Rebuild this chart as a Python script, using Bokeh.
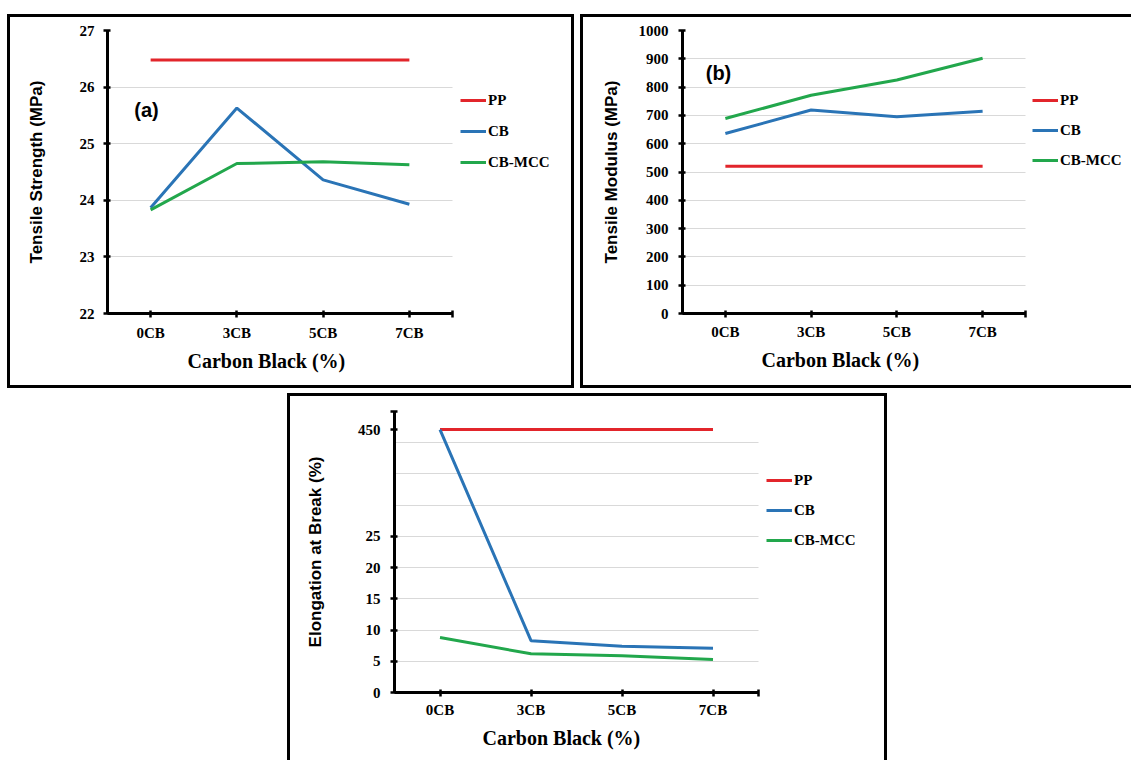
from bokeh.plotting import figure
from bokeh.models import Range1d, FixedTicker, Legend, LegendItem, Label, Spacer, Title
from bokeh.layouts import column, row
from bokeh.embed import file_html
from bokeh.resources import INLINE

# ---------------- data ----------------
categories = ["0CB", "3CB", "5CB", "7CB"]
series_names = ["PP", "CB", "CB-MCC"]

strength_pp = [26.48, 26.48, 26.48, 26.48]
strength_cb = [23.87, 25.63, 24.36, 23.93]
strength_cbmcc = [23.83, 24.65, 24.68, 24.63]
strength_ticks = [22, 23, 24, 25, 26, 27]

modulus_pp = [520, 520, 520, 520]
modulus_cb = [636, 719, 695, 715]
modulus_cbmcc = [689, 771, 825, 902]
modulus_ticks = [0, 100, 200, 300, 400, 500, 600, 700, 800, 900, 1000]

elong_pp = [450, 450, 450, 450]
elong_cb = [450, 8.3, 7.4, 7.1]
elong_cbmcc = [8.8, 6.2, 5.9, 5.3]
elong_ticks = [0, 5, 10, 15, 20, 25, 450]
elong_grid = [0, 5, 10, 15, 20, 25, 30, 35, 40, 45]

# broken y axis of panel (c): linear to 25, then 450 is drawn near the top
BREAK_AT = 25
BREAK_TOP_VALUE = 450
BREAK_TOP_POS = 42.1
ELONG_AXIS_TOP = 45


def elong_scale(v):
    if v <= BREAK_AT:
        return v
    return BREAK_AT + (v - BREAK_AT) * (BREAK_TOP_POS - BREAK_AT) / (BREAK_TOP_VALUE - BREAK_AT)


# category slots: each category occupies one unit, drawn at its centre
N = len(categories)
cat_pos = [i + 0.5 for i in range(N)]
cat_labels = {p: c for p, c in zip(cat_pos, categories)}
cat_labels[N] = ""

COLORS = ["#E2252B", "#2A74B6", "#22A74C"]
SERIF = "Liberation Serif"
SANS = "Liberation Sans"


def make_panel(series, y_start, y_end, ticks, grid_ticks, overrides, ylabel, xlabel,
               width, height, mb, axis_len, ylabel_standoff,
               tick_standoff_y, tick_standoff_x,
               legend_loc, legend_spacing, xlabel_offset, xlabel_standoff,
               tag=None, tag_pos=None, borders=None):
    left, top, bottom = mb
    x_end = N * (width - left) / axis_len
    p = figure(x_range=Range1d(0, x_end),
               y_range=Range1d(y_start, y_end),
               width=width, height=height,
               min_border_left=left, min_border_right=0,
               min_border_top=top, min_border_bottom=bottom,
               output_backend="svg", toolbar_location=None,
               background_fill_color="white", border_fill_color="white",
               styles=borders)
    p.outline_line_color = None
    p.xgrid.visible = False
    p.ygrid.ticker = FixedTicker(ticks=grid_ticks)
    p.ygrid.grid_line_color = "#D9D9D9"
    p.ygrid.grid_line_width = 1
    p.ygrid.cross_bounds = (0, N)

    p.xaxis.ticker = FixedTicker(ticks=cat_pos + [N])
    p.xaxis.major_label_overrides = cat_labels
    p.xaxis.bounds = (0, N)
    p.yaxis.ticker = FixedTicker(ticks=ticks)
    if overrides:
        p.yaxis.major_label_overrides = overrides
    for ax in (p.xaxis[0], p.yaxis[0]):
        ax.axis_line_width = 3
        ax.axis_line_color = "black"
        ax.major_tick_line_width = 2.5
        ax.major_tick_line_color = "black"
        ax.major_tick_in = 3
        ax.major_tick_out = 4
        ax.minor_tick_line_color = None
        ax.major_label_text_font = SERIF
        ax.major_label_text_font_style = "bold"
        ax.major_label_text_font_size = "15px"
        ax.major_label_text_color = "black"
    p.yaxis.major_label_standoff = tick_standoff_y
    p.xaxis.major_label_standoff = tick_standoff_x
    p.yaxis.axis_label = ylabel
    p.yaxis.axis_label_text_font = SANS
    p.yaxis.axis_label_text_font_style = "bold"
    p.yaxis.axis_label_text_font_size = "17px"
    p.yaxis.axis_label_text_color = "black"
    p.yaxis.axis_label_standoff = ylabel_standoff

    items = []
    for name, vals, col in zip(series_names, series, COLORS):
        r = p.line(x=cat_pos, y=vals, line_color=col, line_width=3)
        items.append(LegendItem(label=name, renderers=[r]))
    leg = Legend(items=items, location=legend_loc, padding=0, margin=0,
                 spacing=legend_spacing, glyph_width=26, glyph_height=20,
                 label_height=20, label_standoff=2,
                 label_text_font=SERIF, label_text_font_style="bold",
                 label_text_font_size="15px", label_text_color="black",
                 border_line_color=None, background_fill_alpha=0)
    p.add_layout(leg)

    p.add_layout(Title(text=xlabel, align="left", offset=xlabel_offset,
                       standoff=xlabel_standoff,
                       text_font=SERIF, text_font_style="bold", text_font_size="20px",
                       text_color="black"), "below")
    if tag:
        p.add_layout(Label(x=tag_pos[0], y=tag_pos[1], x_units="screen", y_units="screen",
                           text=tag, text_align="center", text_baseline="middle",
                           text_font=SANS, text_font_style="bold", text_font_size="20px",
                           text_color="black"))
    return p


B = "3px solid black"

pa = make_panel([strength_pp, strength_cb, strength_cbmcc], 22, 27,
                strength_ticks, strength_ticks, None,
                "Tensile Strength (MPa)", "Carbon Black (%)",
                567, 374, (97, 13, 75), 345, 31, 9, 7,
                (353, 141), 11, 80, 9, "(a)", (39, 204),
                {"border": B})

pb = make_panel([modulus_pp, modulus_cb, modulus_cbmcc], 0, 1000,
                modulus_ticks, modulus_ticks, None,
                "Tensile Modulus (MPa)", "Carbon Black (%)",
                551, 374, (99, 13, 78), 343, 15, 10, 6,
                (350, 143), 10, 79, 9, "(b)", (36, 241),
                {"border-left": B, "border-top": B, "border-bottom": B})

elong_disp_pp = [elong_scale(v) for v in elong_pp]
elong_disp_cb = [elong_scale(v) for v in elong_cb]
elong_disp_cbmcc = [elong_scale(v) for v in elong_cbmcc]
elong_tick_pos = [elong_scale(v) for v in elong_ticks] + [ELONG_AXIS_TOP]
elong_overrides = {BREAK_TOP_POS: str(BREAK_TOP_VALUE), ELONG_AXIS_TOP: ""}

pc = make_panel([elong_disp_pp, elong_disp_cb, elong_disp_cbmcc], 0, ELONG_AXIS_TOP,
                elong_tick_pos, elong_grid, elong_overrides,
                "Elongation at Break (%)", "Carbon Black (%)",
                600, 367, (104, 15, 71), 364, 30, 10, 5,
                (372, 142), 10, 88, 9, None, None,
                {"border-left": B, "border-top": B, "border-right": B})

layout = column(
    Spacer(width=10, height=14),
    row(Spacer(width=7, height=10), pa, Spacer(width=6, height=10), pb),
    Spacer(width=10, height=5),
    row(Spacer(width=287, height=10), pc),
)

open("out.html", "w").write(file_html(layout, INLINE))
